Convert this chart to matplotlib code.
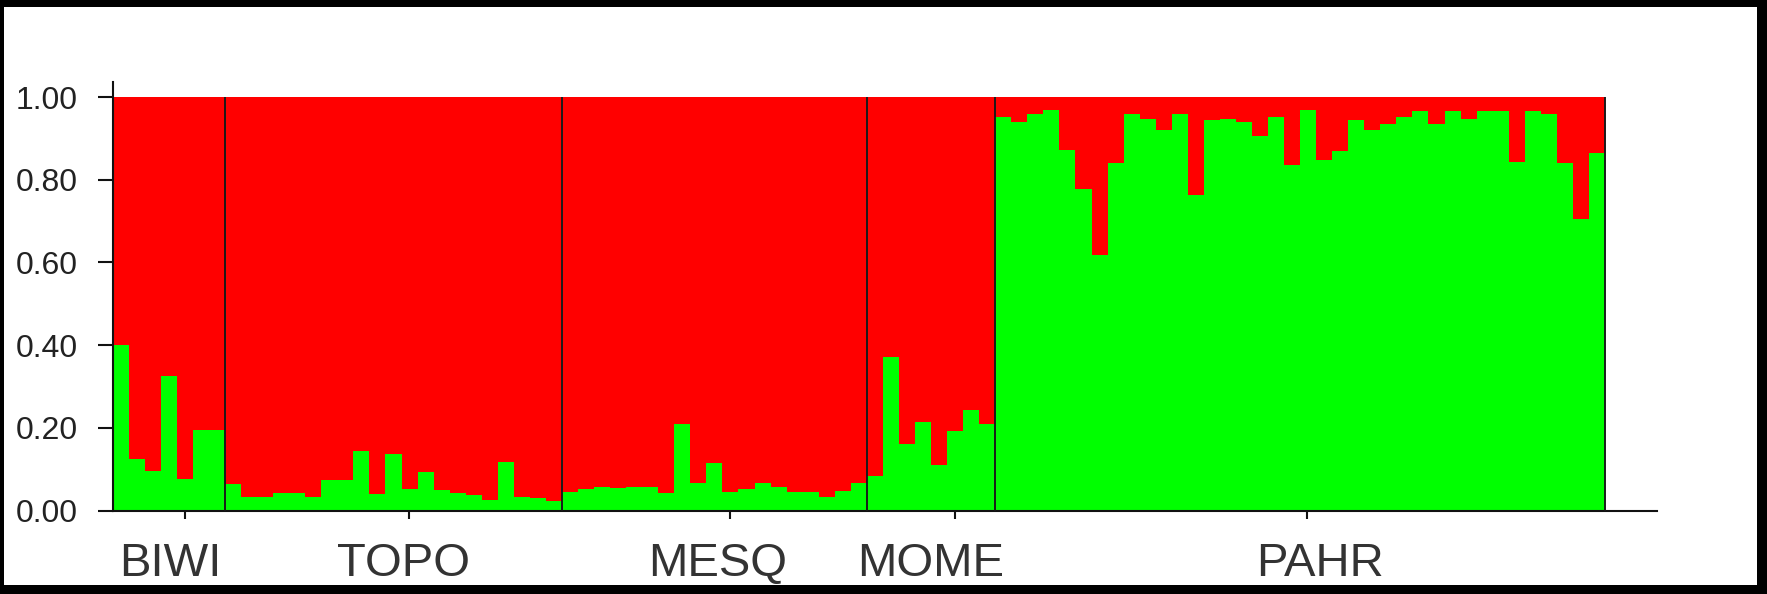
import matplotlib
matplotlib.use("Agg")
import matplotlib.pyplot as plt
from matplotlib.patches import Rectangle
from matplotlib.transforms import blended_transform_factory
import numpy as np

# population order and the cluster-2 (green) share for each individual
pops = ['BIWI', 'TOPO', 'MESQ', 'MOME', 'PAHR']
biwi = [0.40, 0.124, 0.096, 0.325, 0.075, 0.195, 0.195]
topo = [0.064, 0.032, 0.032, 0.043, 0.043, 0.032, 0.074, 0.074, 0.144, 0.040, 0.137,
        0.051, 0.094, 0.050, 0.043, 0.037, 0.025, 0.117, 0.032, 0.030, 0.024]
mesq = [0.045, 0.051, 0.058, 0.054, 0.058, 0.058, 0.043, 0.208, 0.067, 0.114,
        0.045, 0.051, 0.066, 0.058, 0.045, 0.045, 0.032, 0.048, 0.066]
mome = [0.083, 0.372, 0.161, 0.215, 0.110, 0.193, 0.243, 0.209]
pahr = [0.952, 0.940, 0.960, 0.968, 0.872, 0.777, 0.618, 0.840, 0.958, 0.948,
        0.920, 0.960, 0.763, 0.944, 0.948, 0.939, 0.906, 0.952, 0.836, 0.968,
        0.848, 0.869, 0.944, 0.920, 0.934, 0.952, 0.966, 0.934, 0.966, 0.948,
        0.966, 0.966, 0.842, 0.966, 0.960, 0.840, 0.705, 0.864]
yticks = [0.0, 0.2, 0.4, 0.6, 0.8, 1.0]

groups = [biwi, topo, mesq, mome, pahr]
green = np.concatenate([np.array(g) for g in groups])
red = 1 - green
n = len(green)
x = np.arange(n)
bounds = np.cumsum([len(g) for g in groups])

# layout (in bar units)
tick_pos = [4.5, 18.48, 38.47, 52.49, 74.43]
label_pos = [3.61, 18.14, 37.72, 51.0, 75.24]

W, H = 1767, 594
fig = plt.figure(figsize=(W / 100, H / 100), dpi=100)
fig.patch.set_facecolor('white')

ax = fig.add_axes([112.7 / W, (H - 510.5) / H, (1657 - 112.7) / W, (510.5 - 82) / H])
ax.bar(x, green, width=1.0, align='edge', color='#00ff00', linewidth=0)
ax.bar(x, red, width=1.0, bottom=green, align='edge', color='#ff0000', linewidth=0)
ax.vlines(bounds, 0, 1, color='#1a1a1a', linewidth=1.4, zorder=3)

ax.set_xlim(0, (1657 - 112.7) / 16.046)
ax.set_ylim(0, (510.5 - 82) / 413.5)
ax.set_facecolor('white')
for s in ['top', 'right']:
    ax.spines[s].set_visible(False)
for s in ['left', 'bottom']:
    ax.spines[s].set_color('#111111')
    ax.spines[s].set_linewidth(1.5)

ax.set_yticks(yticks)
ax.set_yticklabels(['%.2f' % v for v in yticks], fontfamily='Liberation Sans',
                   fontsize=23, color='#222222')
ax.tick_params(axis='y', direction='out', length=10.8, width=1.5, pad=14.5, color='#111111')
ax.set_xticks(tick_pos)
ax.set_xticklabels([])
ax.tick_params(axis='x', direction='out', length=5.8, width=1.5, color='#111111')

trans = blended_transform_factory(ax.transData, fig.transFigure)
for name, px in zip(pops, label_pos):
    ax.text(px, (H - 576) / H, name, transform=trans, ha='center', va='baseline',
            fontfamily='Liberation Sans', fontsize=34, color='#333333', clip_on=False)

# black frame around the picture
for (x0, y0, w, h) in [(0, H - 7, W, 7), (0, 0, W, 9), (0, 0, 4, H), (W - 10, 0, 10, H)]:
    fig.patches.append(Rectangle((x0 / W, y0 / H), w / W, h / H, transform=fig.transFigure,
                                 facecolor='black', edgecolor='none', zorder=10))

fig.savefig('out.png', dpi=100)
plt.close('all')
